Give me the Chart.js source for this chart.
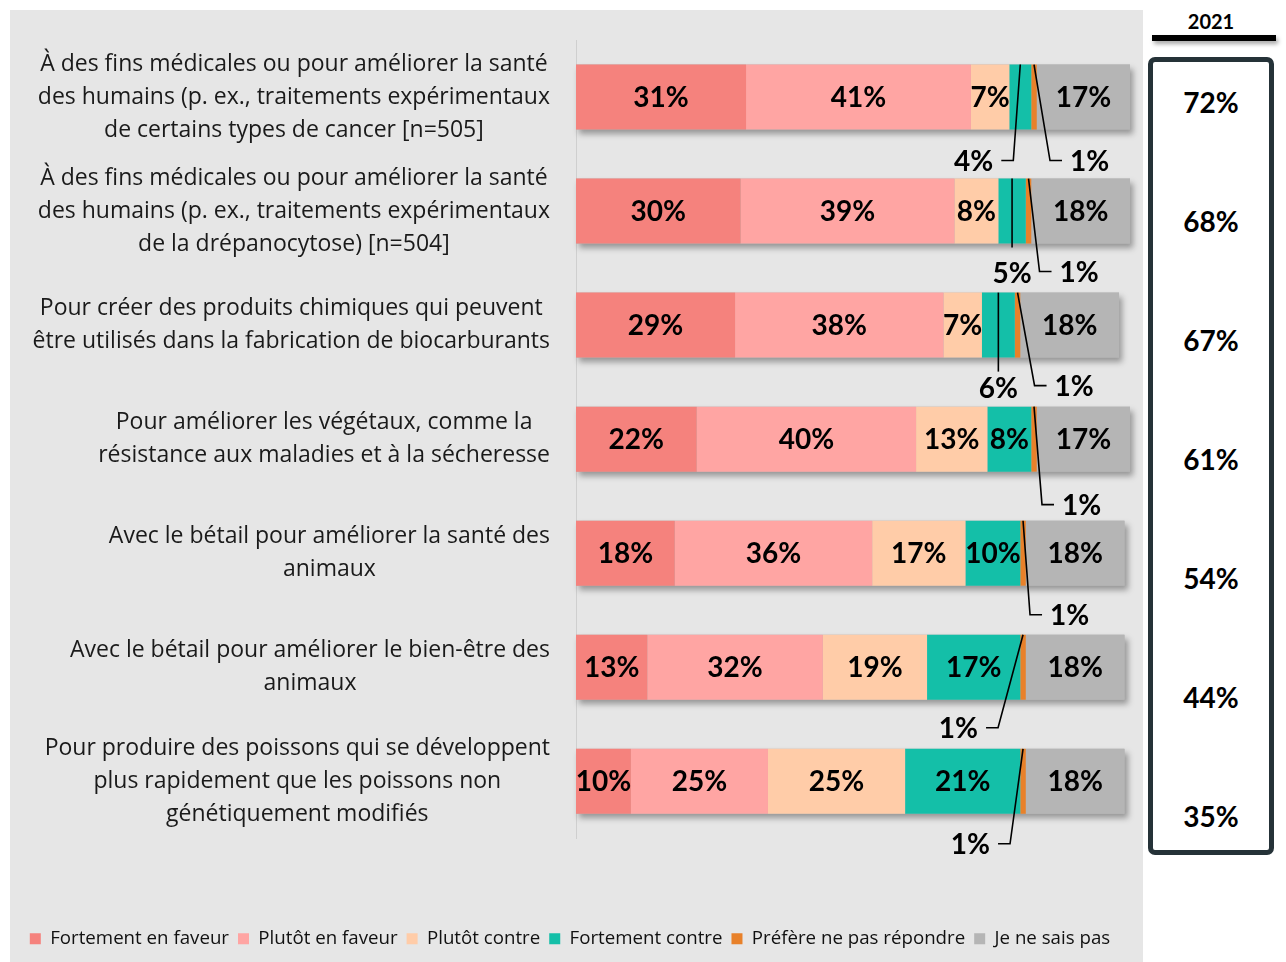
<!DOCTYPE html>
<html lang="fr">
<head>
<meta charset="utf-8">
<script src="https://cdn.jsdelivr.net/npm/chart.js@4.4.1/dist/chart.umd.min.js"></script>
<style>
  body { margin: 0; background: #fff; width: 1286px; height: 962px; overflow: hidden; position: relative; font-family: 'Open Sans', sans-serif; }
  #panel { position: absolute; left: 10px; top: 10px; width: 1133px; height: 952px; background: #e6e6e6; }
  #chart { position: absolute; left: 10px; top: 10px; }
  #year { position: absolute; left: 1152px; top: 9px; width: 118px; text-align: center; font: bold 20px Lato, sans-serif; color: #000; }
  #yearBar { position: absolute; left: 1152px; top: 35px; width: 124px; height: 6px; background: #000; box-shadow: 2px 3px 4px rgba(0,0,0,.35); }
  #totals { position: absolute; left: 1148px; top: 57px; width: 116px; height: 788px; border: 5px solid #253238; border-radius: 7px; }
  .tot { position: absolute; left: 0; width: 100%; text-align: center; font: bold 28px Lato, sans-serif; color: #000; transform: translateY(-50%); }
</style>
</head>
<body>
<div id="panel"></div>
<canvas id="chart" width="1133" height="952"></canvas>
<div id="year">2021</div>
<div id="yearBar"></div>
<div id="totals"></div>
<script>
const categories = [
    ['À des fins médicales ou pour améliorer la santé', 'des humains (p. ex., traitements expérimentaux', 'de certains types de cancer [n=505]'],
    ['À des fins médicales ou pour améliorer la santé', 'des humains (p. ex., traitements expérimentaux', 'de la drépanocytose) [n=504]'],
    ['Pour créer des produits chimiques qui peuvent', 'être utilisés dans la fabrication de biocarburants'],
    ['Pour améliorer les végétaux, comme la', 'résistance aux maladies et à la sécheresse'],
    ['Avec le bétail pour améliorer la santé des', 'animaux'],
    ['Avec le bétail pour améliorer le bien-être des', 'animaux'],
    ['Pour produire des poissons qui se développent', 'plus rapidement que les poissons non', 'génétiquement modifiés']
];

const seriesNames = ['Fortement en faveur', 'Plutôt en faveur', 'Plutôt contre', 'Fortement contre', 'Préfère ne pas répondre', 'Je ne sais pas'];
const seriesColors = ['#f5827d', '#ffa5a3', '#ffcca8', '#14bfa8', '#e8812a', '#b5b5b5'];

const fortementFaveur = [31, 30, 29, 22, 18, 13, 10];
const plutotFaveur    = [41, 39, 38, 40, 36, 32, 25];
const plutotContre    = [7, 8, 7, 13, 17, 19, 25];
const fortementContre = [4, 5, 6, 8, 10, 17, 21];
const prefereNePas    = [1, 1, 1, 1, 1, 1, 1];
const neSaisPas       = [17, 18, 18, 17, 18, 18, 18];

// total "en faveur" affiché dans l'encadré 2021
const totalFaveur2021 = [72, 68, 67, 61, 54, 44, 35];

// petites valeurs sorties de la barre avec un trait de rappel
// ex/ey : coude du trait par rapport au centre du segment et au bas de la barre
const callouts = [
    { row: 0, ds: 3, side: 'left',  ex: -7,  ey: 31 },
    { row: 0, ds: 4, side: 'right', ex: 16,  ey: 31 },
    { row: 1, ds: 3, side: 'down',  ex: 0,   ey: 4,  ty: 30 },
    { row: 1, ds: 4, side: 'right', ex: 11,  ey: 28 },
    { row: 2, ds: 3, side: 'down',  ex: 0,   ey: 14, ty: 31 },
    { row: 2, ds: 4, side: 'right', ex: 17,  ey: 28 },
    { row: 3, ds: 4, side: 'right', ex: 8,   ey: 33 },
    { row: 4, ds: 4, side: 'right', ex: 7,   ey: 29 },
    { row: 5, ds: 4, side: 'left',  ex: -25, ey: 28 },
    { row: 6, ds: 4, side: 'left',  ex: -13, ey: 30 }
];

const VALUE_FONT = 'bold 28px Lato, sans-serif';

const seriesData = [fortementFaveur, plutotFaveur, plutotContre, fortementContre, prefereNePas, neSaisPas];

// ombre portée sous chaque barre empilée
const barShadow = {
    id: 'barShadow',
    beforeDatasetsDraw(chart) {
        const ctx = chart.ctx;
        const first = chart.getDatasetMeta(0).data;
        const last = chart.getDatasetMeta(seriesData.length - 1).data;
        ctx.save();
        ctx.shadowColor = 'rgba(0,0,0,0.35)';
        ctx.shadowBlur = 6;
        ctx.shadowOffsetX = 3;
        ctx.shadowOffsetY = 4;
        ctx.fillStyle = '#b5b5b5';
        first.forEach((el, i) => {
            const h = el.height;
            ctx.fillRect(el.base, el.y - h / 2, last[i].x - el.base, h);
        });
        ctx.restore();
    }
};

// étiquettes de valeur dans les segments + rappels pour les petits segments
const valueLabels = {
    id: 'valueLabels',
    afterDatasetsDraw(chart) {
        const ctx = chart.ctx;
        ctx.save();
        ctx.font = VALUE_FONT;
        ctx.fillStyle = '#000';
        ctx.textBaseline = 'middle';
        ctx.textAlign = 'center';
        seriesData.forEach((values, d) => {
            chart.getDatasetMeta(d).data.forEach((el, i) => {
                if (d === 4 || values[i] < 7) return;
                ctx.fillText(values[i] + '%', (el.base + el.x) / 2, el.y + 1);
            });
        });

        ctx.strokeStyle = '#000';
        ctx.lineWidth = 1.6;
        callouts.forEach(c => {
            const el = chart.getDatasetMeta(c.ds).data[c.row];
            const cx = (el.base + el.x) / 2;
            const top = el.y - el.height / 2;
            const bottom = el.y + el.height / 2;
            const txt = seriesData[c.ds][c.row] + '%';
            const ex = cx + c.ex;
            const ey = bottom + c.ey;
            ctx.beginPath();
            ctx.moveTo(cx, top);
            ctx.lineTo(ex, ey);
            if (c.side === 'left') {
                ctx.lineTo(ex - 12, ey);
                ctx.stroke();
                ctx.textAlign = 'right';
                ctx.fillText(txt, ex - 20, ey + 1);
            } else if (c.side === 'right') {
                ctx.lineTo(ex + 12, ey);
                ctx.stroke();
                ctx.textAlign = 'left';
                ctx.fillText(txt, ex + 20, ey + 1);
            } else {
                ctx.stroke();
                ctx.textAlign = 'center';
                ctx.fillText(txt, ex, bottom + c.ty);
            }
        });
        ctx.restore();
    }
};

// libellés des catégories : lignes centrées entre elles, bloc calé à droite
const categoryLabels = {
    id: 'categoryLabels',
    afterDraw(chart) {
        const ctx = chart.ctx;
        const yScale = chart.scales.y;
        const right = chart.chartArea.left - 26;
        const lineH = 33;
        ctx.save();
        ctx.font = '23px "Open Sans", sans-serif';
        ctx.fillStyle = '#1a1a1a';
        ctx.textAlign = 'center';
        ctx.textBaseline = 'middle';
        categories.forEach((lines, i) => {
            const y = yScale.getPixelForValue(i);
            const w = Math.max(...lines.map(l => ctx.measureText(l).width));
            const cx = right - w / 2;
            const y0 = y - (lines.length - 1) * lineH / 2;
            lines.forEach((l, k) => ctx.fillText(l, cx, y0 + k * lineH));
        });
        ctx.restore();
    }
};

new Chart(document.getElementById('chart'), {
    type: 'bar',
    data: {
        labels: categories.map(c => c.join(' ')),
        datasets: seriesData.map((values, d) => ({
            label: seriesNames[d],
            data: values,
            backgroundColor: seriesColors[d],
            borderWidth: 0,
            barPercentage: 0.57,
            categoryPercentage: 1,
            clip: false
        }))
    },
    options: {
        indexAxis: 'y',
        responsive: false,
        animation: false,
        layout: { padding: { top: 30, right: 13, bottom: 4, left: 0 } },
        plugins: {
            tooltip: { enabled: false },
            legend: {
                position: 'bottom',
                labels: {
                    boxWidth: 11,
                    boxHeight: 11,
                    padding: 9,
                    color: '#111',
                    font: { family: '"Open Sans", sans-serif', size: 18.7 }
                }
            }
        },
        scales: {
            x: {
                stacked: true,
                min: 0,
                max: 101,
                grid: { display: false },
                border: { display: false },
                ticks: { display: false },
                afterFit(s) { s.height = 82; }
            },
            y: {
                stacked: true,
                grid: { display: false },
                border: { color: '#cfcfcf', width: 1 },
                ticks: { display: false },
                afterFit(s) { s.width = 566; }
            }
        }
    },
    plugins: [barShadow, valueLabels, categoryLabels]
});

// encadré 2021
const totals = document.getElementById('totals');
totalFaveur2021.forEach((v, i) => {
    const d = document.createElement('div');
    d.className = 'tot';
    d.style.top = (40 + i * 119) + 'px';
    d.textContent = v + '%';
    totals.appendChild(d);
});
</script>
</body>
</html>
